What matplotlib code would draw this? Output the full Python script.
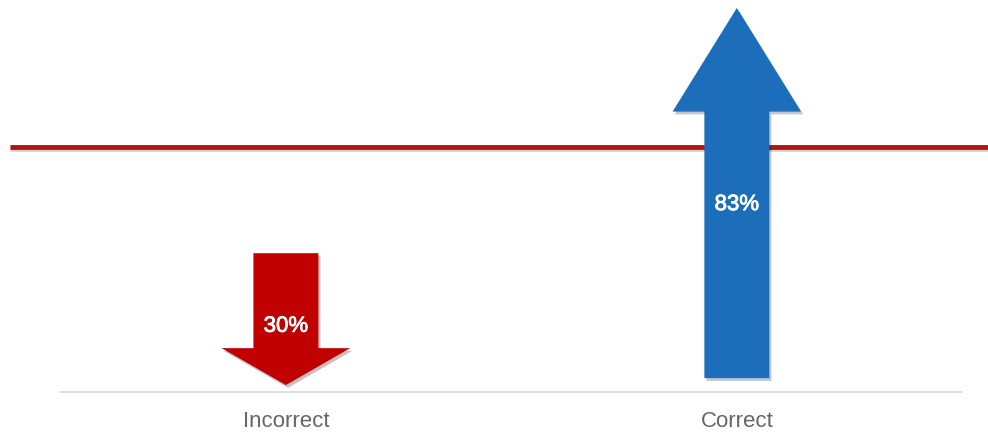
import matplotlib
matplotlib.use("Agg")
import matplotlib.pyplot as plt
from matplotlib.patches import FancyArrow
import matplotlib.patheffects as pe

categories = ['Incorrect', 'Correct']
values = [30, 83]
labels = ['30%', '83%']
directions = ['down', 'up']
colors = ['#C00000', '#1C6EBA']
reference = 53

fig = plt.figure(figsize=(9.88, 4.32), dpi=100)
ax = fig.add_axes([0, 0, 1, 1])
ax.set_xlim(-0.634, 1.557)
ax.set_ylim(-8.64, 84.72)
ax.axis('off')

# baseline of the category axis
ax.plot([-0.5, 1.5], [0, 0], color='#d9d9d9', lw=1.2, zorder=1)

# reference level
ax.plot([-0.612, 1.6], [reference, reference], color='#B01515', lw=3.5,
        solid_capstyle='butt', zorder=2,
        path_effects=[pe.SimpleLineShadow(offset=(0, -1.5), shadow_color='gray', alpha=0.35),
                      pe.Normal()])

gap_up = 3.0
gap_down = 1.5
shaft_w = 0.144
head_w = 0.285

for i, (cat, val, lab, d, c) in enumerate(zip(categories, values, labels, directions, colors)):
    if d == 'up':
        start, end = gap_up, val
        ty = val / 2 - 1.0
    else:
        start, end = val, gap_down
        ty = val - 15.8
    length = end - start
    head_len = abs(length) * 0.28
    arr = FancyArrow(i, start, 0, length, width=shaft_w, head_width=head_w,
                     head_length=head_len, length_includes_head=True,
                     color=c, lw=0, zorder=3,
                     path_effects=[pe.SimplePatchShadow(offset=(1.5, -2), alpha=0.25),
                                   pe.Normal()])
    ax.add_patch(arr)
    ax.text(i, ty, lab, ha='center', va='center', color='white',
            fontsize=16, family='Liberation Sans', zorder=4,
            path_effects=[pe.withStroke(linewidth=0.6, foreground='white')])
    ax.text(i, -6.4, cat, ha='center', va='center', color='#666666',
            fontsize=16, family='Liberation Sans', zorder=4)

fig.savefig('out.png', dpi=100, facecolor='white')
